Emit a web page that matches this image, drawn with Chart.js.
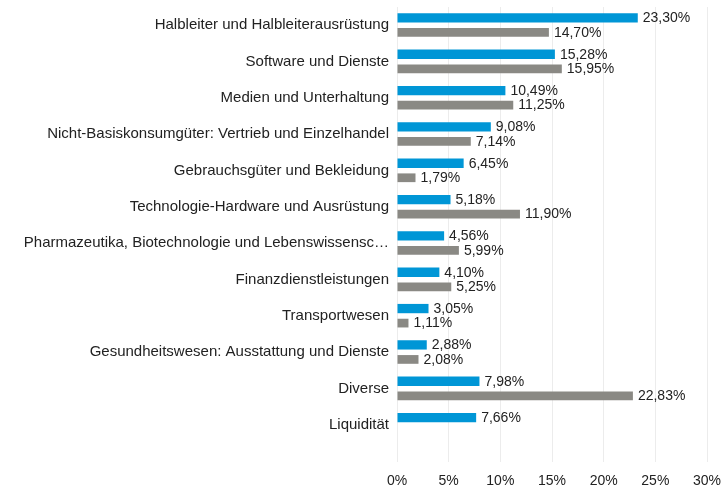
<!DOCTYPE html>
<html>
<head>
<meta charset="utf-8">
<script src="https://cdn.jsdelivr.net/npm/chart.js@4/dist/chart.umd.min.js"></script>
<style>
html,body{margin:0;padding:0;background:#fff;}
#wrap{width:721px;height:487px;position:relative;}
</style>
</head>
<body>
<div id="wrap"><canvas id="c" width="721" height="487"></canvas></div>
<script>
const categories = [
  "Halbleiter und Halbleiterausrüstung",
  "Software und Dienste",
  "Medien und Unterhaltung",
  "Nicht-Basiskonsumgüter: Vertrieb und Einzelhandel",
  "Gebrauchsgüter und Bekleidung",
  "Technologie-Hardware und Ausrüstung",
  "Pharmazeutika, Biotechnologie und Lebenswissensc…",
  "Finanzdienstleistungen",
  "Transportwesen",
  "Gesundheitswesen: Ausstattung und Dienste",
  "Diverse",
  "Liquidität"
];
const seriesBlue = [23.30, 15.28, 10.49, 9.08, 6.45, 5.18, 4.56, 4.10, 3.05, 2.88, 7.98, 7.66];
const seriesGray = [14.70, 15.95, 11.25, 7.14, 1.79, 11.90, 5.99, 5.25, 1.11, 2.08, 22.83, null];
const xTicks = [0, 5, 10, 15, 20, 25, 30];

const fmt = v => v.toFixed(2).replace('.', ',') + '%';

const valueLabels = {
  id: 'valueLabels',
  afterDatasetsDraw(chart) {
    const ctx = chart.ctx;
    ctx.save();
    ctx.font = '14px "Liberation Sans", Arial, sans-serif';
    ctx.fillStyle = '#222222';
    ctx.textAlign = 'left';
    ctx.textBaseline = 'middle';
    chart.data.datasets.forEach((ds, di) => {
      const meta = chart.getDatasetMeta(di);
      meta.data.forEach((el, i) => {
        const v = ds.data[i];
        if (v === null || v === undefined) return;
        ctx.fillText(fmt(v), el.x + 5, el.y + 0.5);
      });
    });
    ctx.restore();
  }
};

new Chart(document.getElementById('c'), {
  type: 'bar',
  data: {
    labels: categories,
    datasets: [
      { data: seriesBlue, backgroundColor: '#0096D6', categoryPercentage: 0.8, barPercentage: 0.64 },
      { data: seriesGray, backgroundColor: '#8A8984', categoryPercentage: 0.8, barPercentage: 0.6 }
    ]
  },
  options: {
    indexAxis: 'y',
    responsive: false,
    animation: false,
    layout: { padding: { top: 7, right: 14, bottom: 0, left: 0 } },
    plugins: { legend: { display: false }, tooltip: { enabled: false } },
    scales: {
      x: {
        min: 0, max: 30,
        afterBuildTicks: s => { s.ticks = xTicks.map(v => ({ value: v })); },
        afterFit: s => { s.height = 44; s.paddingLeft = 0; s.paddingRight = 0; },
        ticks: {
          callback: v => v + '%',
          color: '#222222',
          font: { family: '"Liberation Sans", Arial, sans-serif', size: 14 },
          padding: 11,
          maxRotation: 0
        },
        grid: { color: '#ececec', lineWidth: 1, tickLength: 19, drawTicks: true },
        border: { display: false }
      },
      y: {
        afterFit: s => { s.width = 397; s.paddingTop = 0; s.paddingBottom = 0; },
        ticks: {
          color: '#222222',
          font: { family: '"Liberation Sans", Arial, sans-serif', size: 15 },
          padding: 8,
          autoSkip: false
        },
        grid: { display: false, drawTicks: false },
        border: { display: false }
      }
    }
  },
  plugins: [valueLabels]
});
</script>
</body>
</html>
